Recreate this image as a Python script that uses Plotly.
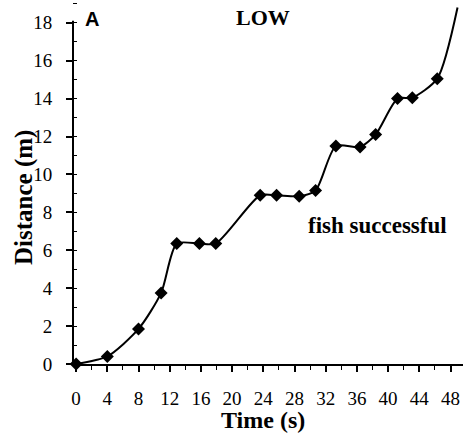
import plotly.graph_objects as go

time_s = [0, 4, 8, 10.9, 12.9, 15.8, 17.9, 23.6, 25.7, 28.6, 30.7, 33.3, 36.4, 38.4, 41.2, 43.1, 46.3]
distance_m = [0, 0.4, 1.85, 3.75, 6.35, 6.35, 6.35, 8.9, 8.9, 8.85, 9.15, 11.5, 11.45, 12.1, 14.0, 14.05, 15.05]
tail_time = [48.9]
tail_distance = [18.8]

x_ticks = list(range(0, 49, 4))
y_ticks = list(range(0, 19, 2))

serif = "Liberation Serif"

fig = go.Figure()
fig.add_trace(go.Scatter(
    x=time_s + tail_time, y=distance_m + tail_distance, mode="lines",
    line=dict(color="black", width=2, shape="spline", smoothing=0.7),
    hoverinfo="skip", showlegend=False))
fig.add_trace(go.Scatter(
    x=time_s, y=distance_m, mode="markers",
    marker=dict(symbol="diamond", size=10, color="black"),
    cliponaxis=False, showlegend=False))

fig.update_layout(
    width=463, height=445,
    margin=dict(l=73, r=0, t=0, b=81),
    paper_bgcolor="white", plot_bgcolor="white",
    font=dict(family=serif, color="black", size=19),
    xaxis=dict(
        range=[-0.4, 49.6], tickvals=x_ticks, ticktext=[str(v) for v in x_ticks],
        automargin=False,
        showline=True, linecolor="black", linewidth=2, showgrid=False, zeroline=False,
        ticks="outside", ticklen=6, tickwidth=1.5, tickcolor="black",
        minor=dict(dtick=2, tick0=0, ticks="outside", ticklen=4, tickwidth=1.2, tickcolor="black"),
        tickfont=dict(family=serif, size=19), ticklabelstandoff=10,
    ),
    yaxis=dict(
        range=[0, 19.2], tickvals=y_ticks, ticktext=[str(v) for v in y_ticks],
        automargin=False,
        showline=False, showgrid=False, zeroline=False,
        ticks="outside", ticklen=6, tickwidth=1.5, tickcolor="black",
        minor=dict(dtick=1, tick0=0, ticks="inside", ticklen=4, tickwidth=1.2, tickcolor="black"),
        tickfont=dict(family=serif, size=19), ticklabelstandoff=10,
    ),
    shapes=[dict(type="line", xref="paper", yref="y", x0=0, x1=0, y0=0, y1=18.1,
                 line=dict(color="black", width=2))],
    annotations=[
        dict(x=2.05, y=18.2, xref="x", yref="y", text="<b>A</b>", showarrow=False,
             xanchor="center", yanchor="middle",
             font=dict(family="Liberation Sans", size=20)),
        dict(x=24.0, y=18.27, xref="x", yref="y", text="<b>LOW</b>", showarrow=False,
             xanchor="center", yanchor="middle",
             font=dict(family=serif, size=22)),
        dict(x=38.6, y=7.29, xref="x", yref="y", text="<b>fish successful</b>", showarrow=False,
             xanchor="center", yanchor="middle",
             font=dict(family=serif, size=23)),
        dict(x=(263 - 73) / 390, y=-(420 - 364) / 364, xref="paper", yref="paper",
             text="<b>Time (s)</b>", showarrow=False, xanchor="center", yanchor="middle",
             font=dict(family=serif, size=24)),
        dict(x=-(73 - 24) / 390, y=(364 - 198) / 364, xref="paper", yref="paper",
             text="<b>Distance (m)</b>", textangle=-90, showarrow=False,
             xanchor="center", yanchor="middle",
             font=dict(family=serif, size=25)),
    ],
)

fig.write_html("out.html", config={"displayModeBar": False},
               post_script="document.body.style.margin='0';document.body.style.overflow='hidden';")
